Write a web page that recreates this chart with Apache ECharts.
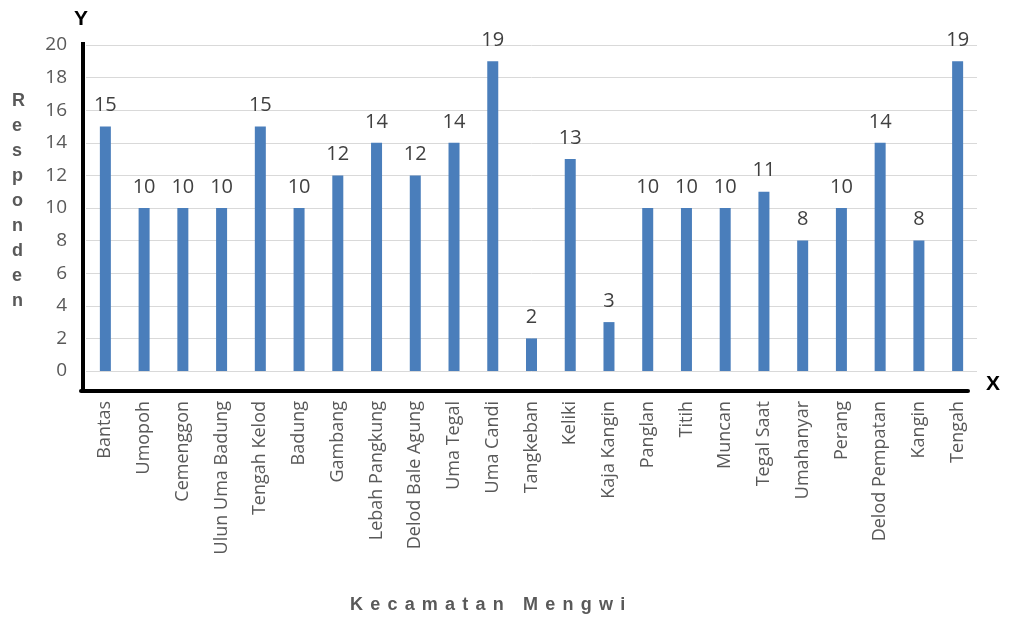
<!DOCTYPE html>
<html>
<head>
<meta charset="utf-8">
<script src="https://cdn.jsdelivr.net/npm/echarts@6/dist/echarts.min.js"></script>
<style>
  html, body { margin: 0; padding: 0; background: #fff; }
  #chart { width: 1011px; height: 623px; }
</style>
</head>
<body>
<div id="chart"></div>
<script>
// data
const desa = [
  'Bantas', 'Umopoh', 'Cemenggon', 'Ulun Uma Badung', 'Tengah Kelod', 'Badung',
  'Gambang', 'Lebah Pangkung', 'Delod Bale Agung', 'Uma Tegal', 'Uma Candi',
  'Tangkeban', 'Keliki', 'Kaja Kangin', 'Panglan', 'Titih', 'Muncan',
  'Tegal Saat', 'Umahanyar', 'Perang', 'Delod Pempatan', 'Kangin', 'Tengah'
]
const responden = [15, 10, 10, 10, 15, 10, 12, 14, 12, 14, 19, 2, 13, 3, 10, 10, 10, 11, 8, 10, 14, 8, 19]
const yMin = 0
const yMax = 20
const yStep = 2

const chart = echarts.init(document.getElementById('chart'))
const fontFamily = '"Open Sans", "Liberation Sans", sans-serif'
const sp = '\u2009\u2009'

const option = {
  animation: false,
  textStyle: { fontFamily: fontFamily },
  grid: { left: 86, right: 34, top: 45, bottom: 252 },
  xAxis: {
    type: 'category',
    data: desa,
    offset: 20,
    axisLine: { show: false },
    axisTick: { show: false },
    axisLabel: {
      rotate: 90,
      interval: 0,
      margin: 10,
      fontSize: 18,
      color: '#595959',
      fontFamily: fontFamily
    }
  },
  yAxis: {
    type: 'value',
    min: yMin,
    max: yMax,
    interval: yStep,
    axisLine: { show: false },
    axisTick: { show: false },
    axisLabel: { margin: 19, fontSize: 19, color: '#595959', fontFamily: fontFamily },
    splitLine: { lineStyle: { color: '#d9d9d9', width: 1 } }
  },
  series: [{
    type: 'bar',
    data: responden,
    barWidth: 11,
    itemStyle: { color: '#4A7EBB' },
    label: {
      show: true,
      position: 'top',
      distance: 11,
      fontSize: 20,
      color: '#404040',
      fontFamily: fontFamily
    }
  }],
  graphic: [
    // thick black axes
    { type: 'line', shape: { x1: 83, y1: 42, x2: 83, y2: 393 }, style: { stroke: '#000', lineWidth: 4 } },
    { type: 'line', shape: { x1: 81, y1: 391, x2: 968, y2: 391 }, style: { stroke: '#000', lineWidth: 4, lineCap: 'round' } },
    { type: 'text', left: 74, top: 9, style: { text: 'Y', font: 'bold 21px "Liberation Sans", sans-serif', fill: '#000' } },
    { type: 'text', left: 986, top: 374, style: { text: 'X', font: 'bold 21px "Liberation Sans", sans-serif', fill: '#000' } },
    {
      type: 'text', left: 12, top: 89,
      style: {
        text: 'Responden'.split('').join('\n'),
        font: 'bold 18px "Liberation Sans", sans-serif',
        lineHeight: 25,
        align: 'center',
        fill: '#595959'
      }
    },
    {
      type: 'text', left: 350, top: 596,
      style: {
        text: 'Kecamatan Mengwi'.split('').join(sp),
        font: 'bold 18px "Liberation Sans", sans-serif',
        fill: '#595959'
      }
    }
  ]
}
chart.setOption(option)
</script>
</body>
</html>
